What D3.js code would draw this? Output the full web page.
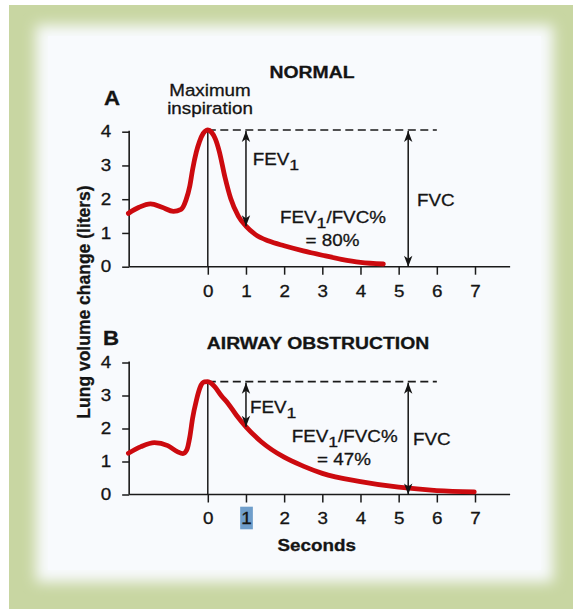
<!DOCTYPE html>
<html>
<head>
<meta charset="utf-8">
<script src="https://cdn.jsdelivr.net/npm/d3@7"></script>
<style>
html,body{margin:0;padding:0;background:#fff;}
svg{display:block;}
text{font-family:"Liberation Sans",Arial,Helvetica,sans-serif;fill:#141414;stroke:#141414;stroke-width:0.3px;}
</style>
</head>
<body>
<script>
// ---------- data ----------
const xTicks = [0,1,2,3,4,5,6,7];
const yTicks = [0,1,2,3,4];
const highlightTick = 1;

// Panel A: NORMAL
const normalTime = [-2.08,-1.8,-1.5,-1.2,-0.9,-0.7,-0.57,-0.47,-0.4,-0.3,-0.22,-0.12,-0.04,0,0.1,0.2,0.3,0.45,0.6,0.8,1.0,1.25,1.6,2.0,2.5,3.0,3.5,4.0,4.6];
const normalVol  = [1.58,1.76,1.86,1.76,1.64,1.70,1.98,2.40,2.87,3.40,3.70,3.95,4.04,4.05,3.98,3.78,3.42,2.65,2.02,1.50,1.20,0.95,0.76,0.62,0.47,0.34,0.22,0.13,0.08];

// Panel B: AIRWAY OBSTRUCTION
const obstTime = [-2.08,-1.75,-1.4,-1.05,-0.8,-0.65,-0.55,-0.47,-0.4,-0.3,-0.2,-0.09,0,0.08,0.18,0.35,0.53,0.75,1.0,1.4,2.0,2.5,3.0,4.0,5.0,6.0,6.98];
const obstVol  = [1.25,1.45,1.57,1.48,1.30,1.24,1.35,1.75,2.30,2.85,3.25,3.41,3.42,3.38,3.27,3.00,2.76,2.40,2.05,1.60,1.13,0.86,0.64,0.39,0.22,0.12,0.08];

const fev1Time = 1;
const fvcTime = 5.25;
const dashEndTime = 6;
const xAxisExtent = [-2.06, 7.92];

const panels = [
  {letter:"A", title:"NORMAL", time:normalTime, vol:normalVol, ratio:"= 80%", rangeY:[266.7,131.7],
   titleX:312, titleY:78, letterX:104, letterY:105, tickLabelY:297,
   fevLabel:[252.7,165], ratioLabel:[280,223], ratioVal:[332.5,246], fvcLabel:[417,206]},
  {letter:"B", title:"AIRWAY OBSTRUCTION", time:obstTime, vol:obstVol, ratio:"= 47%", rangeY:[494.5,362.5],
   titleX:318, titleY:349, letterX:103, letterY:345, tickLabelY:524,
   fevLabel:[250,413], ratioLabel:[291.7,442], ratioVal:[344,465], fvcLabel:[413,445]}
];

// ---------- setup ----------
const W = 573, H = 609, SX = 1.14;
const svg = d3.select("body").append("svg").attr("width",W).attr("height",H);
const defs = svg.append("defs");

// frame
const blur = defs.append("filter").attr("id","soft").attr("x","-10%").attr("y","-10%").attr("width","120%").attr("height","120%");
blur.append("feGaussianBlur").attr("stdDeviation",7);
svg.append("rect").attr("x",0).attr("y",0).attr("width",W).attr("height",H).attr("fill","#ffffff");
svg.append("rect").attr("x",9).attr("y",5).attr("width",W-9).attr("height",H-5).attr("fill","#c8d6a2");
svg.append("rect").attr("x",36).attr("y",25).attr("width",517).attr("height",557).attr("fill","#f8fafd").attr("filter","url(#soft)");
svg.append("rect").attr("x",48).attr("y",36).attr("width",493).attr("height",534).attr("fill","#f8fafd");

// arrow marker
defs.append("marker").attr("id","ah").attr("viewBox","-12 -6 13 12")
  .attr("refX",0).attr("refY",0).attr("markerWidth",13).attr("markerHeight",12)
  .attr("markerUnits","userSpaceOnUse").attr("orient","auto-start-reverse")
  .append("path").attr("d","M0,0 L-11,-4.2 L-8,0 L-11,4.2 Z").attr("fill","#141414");

const x = d3.scaleLinear().domain([0,7]).range([207.8,475]);

function stretchText(sel, tx, ty, str, size, weight, anchor){
  return sel.append("text")
    .attr("transform",`translate(${tx},${ty}) scale(${SX},1)`)
    .attr("font-size",size).attr("font-weight",weight||"normal")
    .attr("text-anchor",anchor||"start").text(str);
}
function fevText(sel, tx, ty, rest){
  const t = sel.append("text").attr("transform",`translate(${tx},${ty}) scale(${SX},1)`)
    .attr("font-size",16.5);
  t.append("tspan").text("FEV");
  t.append("tspan").attr("dy",4.5).attr("font-size",15.5).text("1");
  if(rest) t.append("tspan").attr("dy",-4.5).text(rest);
  return t;
}

panels.forEach((p,i)=>{
  const y = d3.scaleLinear().domain([0,4]).range(p.rangeY);
  const g = svg.append("g");
  const peak = d3.max(p.vol);
  const fevVol = p.vol[p.time.indexOf(fev1Time)];

  // axes lines
  g.append("line").attr("x1",x(xAxisExtent[0])).attr("x2",x(xAxisExtent[1]))
    .attr("y1",y(0)).attr("y2",y(0)).attr("stroke","#1a1a1a").attr("stroke-width",1.6);
  g.append("line").attr("x1",x(xAxisExtent[0])).attr("x2",x(xAxisExtent[0]))
    .attr("y1",y(0)).attr("y2",y(4)-1).attr("stroke","#1a1a1a").attr("stroke-width",1.6);

  // y axis
  const ya = g.append("g").attr("transform",`translate(${x(xAxisExtent[0])},0)`)
    .call(d3.axisLeft(y).tickValues(yTicks).tickSize(7).tickPadding(11).tickFormat(d3.format("d")));
  // x axis
  const xa = g.append("g").attr("transform",`translate(0,${y(0)})`)
    .call(d3.axisBottom(x).tickValues(xTicks).tickSize(8).tickPadding(0).tickFormat(d3.format("d")));
  [ya,xa].forEach(a=>{
    a.select(".domain").remove();
    a.selectAll(".tick line").attr("stroke","#1a1a1a").attr("stroke-width",1.5);
    a.selectAll("text").attr("font-size",16.5).attr("font-family",null).attr("fill","#141414");
  });
  ya.selectAll("text").each(function(){
    const tx = +this.getAttribute("x");
    this.setAttribute("x",0);
    this.setAttribute("transform",`translate(${tx},0) scale(${SX},1)`);
  });
  xa.selectAll("text").each(function(){
    this.setAttribute("y",0); this.setAttribute("dy",0);
    this.setAttribute("transform",`translate(0,${p.tickLabelY - y(0)}) scale(${SX},1)`);
  });
  if(i===1){
    const tk = xa.selectAll(".tick").filter(d=>d===highlightTick);
    tk.insert("rect","text").attr("x",-6.3).attr("y",506.7-y(0)).attr("width",12.7).attr("height",22.6).attr("fill","#6f9ecb");
  }

  // vertical line at t=0
  g.append("line").attr("x1",x(0)).attr("x2",x(0)).attr("y1",y(peak)-1).attr("y2",y(0))
    .attr("stroke","#1a1a1a").attr("stroke-width",1.5);
  // dashed
  g.append("line").attr("x1",x(0)).attr("x2",x(dashEndTime)).attr("y1",y(peak)).attr("y2",y(peak))
    .attr("stroke","#1a1a1a").attr("stroke-width",1.6).attr("stroke-dasharray","8,4.5");

  // curve
  const pts = p.time.map((t,k)=>[t,p.vol[k]]);
  g.append("path").datum(pts)
    .attr("d",d3.line().x(d=>x(d[0])).y(d=>y(d[1])).curve(d3.curveMonotoneX))
    .attr("fill","none").attr("stroke","#cc0a0f").attr("stroke-width",4.8)
    .attr("stroke-linecap","round").attr("stroke-linejoin","round");

  // arrows
  g.append("line").attr("x1",x(fev1Time)).attr("x2",x(fev1Time)).attr("y1",y(peak)+1).attr("y2",y(fevVol))
    .attr("stroke","#141414").attr("stroke-width",1.5)
    .attr("marker-start","url(#ah)").attr("marker-end","url(#ah)");
  g.append("line").attr("x1",x(fvcTime)).attr("x2",x(fvcTime)).attr("y1",y(peak)+1).attr("y2",y(0))
    .attr("stroke","#141414").attr("stroke-width",1.5)
    .attr("marker-start","url(#ah)").attr("marker-end","url(#ah)");

  // texts
  stretchText(g, p.titleX, p.titleY, p.title, 17, "bold", "middle");
  stretchText(g, p.letterX, p.letterY, p.letter, 19.5, "bold", "start");
  fevText(g, p.fevLabel[0], p.fevLabel[1], null);
  fevText(g, p.ratioLabel[0], p.ratioLabel[1], "/FVC%");
  stretchText(g, p.ratioVal[0], p.ratioVal[1], p.ratio, 16.5, "normal", "middle");
  stretchText(g, p.fvcLabel[0], p.fvcLabel[1], "FVC", 16.5, "normal", "start");
});

// Maximum inspiration
stretchText(svg, 210, 96, "Maximum", 16.5, "normal", "middle");
stretchText(svg, 210, 113.5, "inspiration", 16.5, "normal", "middle");

// Axis titles
stretchText(svg, 316.7, 551, "Seconds", 16.5, "bold", "middle");
svg.append("text").attr("transform","translate(90,302) rotate(-90)")
  .attr("font-size",17.5).attr("font-weight","bold").attr("text-anchor","middle")
  .text("Lung volume change (liters)");
</script>
</body>
</html>
